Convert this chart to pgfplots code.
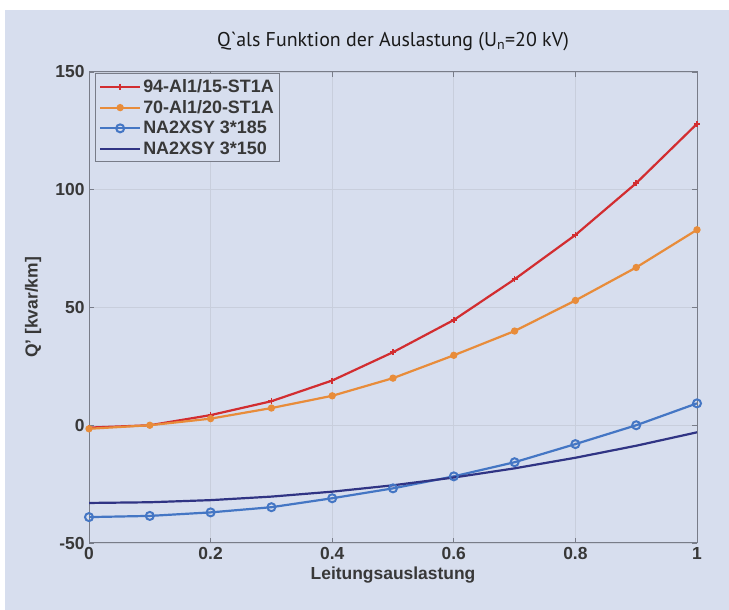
\documentclass[border=0pt]{standalone}
\usepackage{fontspec}
\setmainfont{Liberation Sans}
\newfontfamily\titlefont{PT Sans}
\usepackage{pgfplots}
\pgfplotsset{compat=1.18}
\definecolor{bgcol}{RGB}{215,222,238}
\definecolor{gridcol}{RGB}{200,206,220}
\definecolor{axcol}{RGB}{120,124,136}
\definecolor{cred}{RGB}{210,45,48}
\definecolor{corange}{RGB}{232,140,58}
\definecolor{cblue}{RGB}{68,118,196}
\definecolor{cnavy}{RGB}{48,52,132}
\begin{document}
\begin{tikzpicture}
\fill[white] (0,0) rectangle (729bp,610bp);
\fill[bgcol] (5bp,0) rectangle (729bp,600bp);
\begin{axis}[
  scale only axis,
  width=608bp, height=471bp,
  at={(89bp,67bp)}, anchor=south west,
  xmin=0, xmax=1, ymin=-50, ymax=150,
  xtick={0,0.2,0.4,0.6,0.8,1},
  ytick={-50,0,50,100,150},
  axis background/.style={fill=bgcol},
  axis line style={axcol, line width=1bp},
  tick style={axcol, line width=0.8bp},
  major tick length=5bp,
  grid=major,
  major grid style={gridcol, line width=0.8bp},
  /pgf/number format/assume math mode=true,
  tick label style={font=\fontsize{17.5}{21}\selectfont\bfseries, text=black!78},
  xticklabel style={yshift=-1bp},
  yticklabel style={xshift=-1bp},
  title={\titlefont Q\symbol{96}als Funktion der Auslastung (U\textsubscript{n}=20 kV)},
  title style={font=\fontsize{20}{23}\selectfont, at={(axis description cs:0.5,1.053)}, anchor=center, text=black!90},
  xlabel={Leitungsauslastung},
  ylabel={Q' [kvar/km]},
  xlabel style={font=\fontsize{17.5}{21}\selectfont\bfseries, text=black!78, at={(axis description cs:0.5,-0.068)}, anchor=center},
  ylabel style={font=\fontsize{17.5}{21}\selectfont\bfseries, text=black!78, at={(axis description cs:-0.092,0.5)}, rotate=0, anchor=center},
  legend style={at={(axis description cs:0.01,0.997)}, anchor=north west,
    draw=axcol, line width=1bp, fill=bgcol, font=\fontsize{18}{21.5}\selectfont\bfseries,
    inner sep=3.5bp, row sep=2.5bp, text=black!78},
  legend cell align=left,
  legend image code/.code={\draw[mark repeat=2,mark phase=2,#1] plot coordinates {(0bp,0bp) (20bp,0bp) (40bp,0bp)};},
]
\addplot[cred, line width=2.2bp, mark=+, mark size=3bp, mark options={line width=1.5bp}] coordinates {
(0,-1) (0.1,0) (0.2,4.3) (0.3,10.2) (0.4,19) (0.5,31) (0.6,44.7) (0.7,62) (0.8,80.8) (0.9,102.8) (1,128)};
\addlegendentry{94-Al1/15-ST1A}
\addplot[corange, line width=2.2bp, mark=*, mark size=2.5bp] coordinates {
(0,-1.5) (0.1,0) (0.2,2.8) (0.3,7.3) (0.4,12.5) (0.5,20) (0.6,29.7) (0.7,40) (0.8,53) (0.9,67) (1,83)};
\addlegendentry{70-Al1/20-ST1A}
\addplot[cblue, line width=2.2bp, mark=o, mark size=4bp, mark options={line width=2bp}] coordinates {
(0,-39) (0.1,-38.5) (0.2,-37) (0.3,-34.8) (0.4,-31) (0.5,-26.8) (0.6,-21.7) (0.7,-15.7) (0.8,-8) (0.9,0) (1,9.3)};
\addlegendentry{NA2XSY 3*185}
\addplot[cnavy, line width=2.2bp] coordinates {
(0,-33) (0.1,-32.7) (0.2,-31.8) (0.3,-30.3) (0.4,-28.2) (0.5,-25.5) (0.6,-22.2) (0.7,-18.3) (0.8,-13.8) (0.9,-8.7) (1,-3)};
\addlegendentry{NA2XSY 3*150}
\end{axis}
\pgfresetboundingbox
\useasboundingbox (0,0) rectangle (729bp,610bp);
\end{tikzpicture}
\end{document}
